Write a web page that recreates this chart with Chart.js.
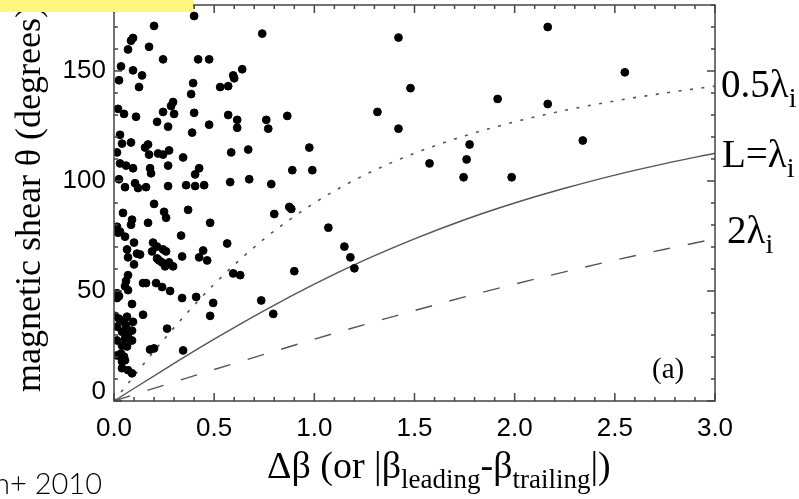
<!DOCTYPE html>
<html>
<head>
<meta charset="utf-8">
<script src="https://cdn.jsdelivr.net/npm/chart.js@4"></script>
<style>
  html, body { margin: 0; padding: 0; background: #fff; }
  #wrap { position: relative; width: 799px; height: 499px; }
</style>
</head>
<body>
<div id="wrap"><canvas id="shearChart" width="799" height="499"></canvas></div>
<script>
// observed events: delta beta vs magnetic shear angle
var deltaBeta = [
  0.40, 0.20, 0.095, 0.085, 0.07, 0.175, 0.245, 0.42, 0.475, 0.035,
  0.095, 0.14, 0.025, 0.125, 0.395, 0.385, 0.53, 0.57, 0.595, 0.60,
  0.64, 0.74, 0.02, 0.05, 0.11, 0.215, 0.245, 0.295, 0.285, 0.30,
  0.27, 0.40, 0.39, 0.475, 0.57, 0.615, 0.615, 0.03, 0.04, 0.085,
  0.155, 0.17, 0.175, 0.22, 0.245, 0.275, 0.345, 0.585, 0.67, 0.015,
  0.03, 0.06, 0.095, 0.18, 0.27, 0.425, 0.025, 0.055, 0.105, 0.12,
  0.16, 0.185, 0.27, 0.36, 0.405, 0.45, 0.405, 0.58, 0.675, 0.20,
  0.045, 0.25, 0.26, 0.37, 0.09, 0.085, 0.17, 0.48, 0.015, 0.03,
  0.02, 0.055, 0.335, 0.10, 0.195, 0.215, 0.565, 0.065, 0.07, 0.115,
  0.13, 0.19, 0.245, 0.26, 0.445, 0.425, 0.465, 0.34, 0.10, 0.215,
  0.225, 0.24, 0.255, 0.295, 0.275, 0.595, 0.63, 0.07, 0.06, 0.055,
  0.07, 0.145, 0.16, 0.21, 0.24, 0.28, 0.015, 0.025, 0.015, 0.34,
  0.41, 0.495, 0.735, 0.09, 0.145, 0.48, 0.005, 0.025, 0.065, 0.05,
  0.095, 0.06, 0.265, 0.015, 0.04, 0.07, 0.09, 0.015, 0.055, 0.09,
  0.04, 0.065, 0.18, 0.20, 0.345, 0.015, 0.035, 0.05, 0.04, 0.055,
  0.04, 0.07, 0.09, 1.42, 2.165, 1.48, 1.915, 2.165, 1.315, 0.76,
  0.77, 0.865, 1.42, 0.975, 1.775, 1.76, 1.575, 1.745, 1.985, 0.89,
  0.99, 0.785, 2.55, 2.34, 0.80, 0.875, 0.885, 1.07, 1.15, 1.18,
  1.20, 0.90, 0.795
];
var shearAngle = [
  175, 170.5, 165, 163.8, 159.8, 161, 155.3, 155.3, 155.3, 152.1,
  150.3, 148, 145.8, 142.7, 144.5, 139.5, 142.7, 143.1, 148, 146.7,
  150.8, 167, 132.8, 130.5, 129.2, 126.9, 131.4, 135.9, 134.1, 130.5,
  124.7, 131, 122, 125.6, 130, 127.8, 124.2, 121, 117, 117.5,
  115.2, 116.6, 112, 112.5, 112, 113.9, 110.7, 113, 114.3, 113,
  108, 107, 105.8, 105.8, 107, 105.8, 100.8, 97.2, 99, 96.8,
  97.2, 103.5, 97.7, 98.1, 97.7, 98.1, 103, 99.5, 100.8, 89.6,
  85.5, 86, 83.3, 86.9, 82.4, 80.1, 81, 81, 79.2, 77,
  76.5, 74.7, 75.2, 72, 72, 70.2, 71.6, 68.9, 65.3, 67,
  66.6, 68, 68.9, 68, 68.4, 65.3, 63.9, 65.7, 62.1, 64.8,
  63.9, 63, 61.2, 61.2, 63, 58, 57.2, 57.2, 54.5, 52.2,
  50.4, 53.6, 53.6, 53.6, 51.8, 50, 49, 47.7, 46.8, 46.8,
  47.3, 44.6, 45.7, 44.1, 39.2, 38.7, 38.7, 37.4, 38.3, 36,
  36, 34.2, 32.9, 33.8, 31.5, 30.6, 32, 27.5, 28.4, 27.5,
  25.2, 24.8, 23.4, 23.9, 23, 20.7, 21.6, 20.2, 18, 18.5,
  14.9, 14, 12.6, 165.2, 170, 142.2, 137.3, 135, 131.4, 127.8,
  123.8, 129.6, 123.8, 115.2, 116.6, 109.8, 108, 101.7, 101.7, 104.9,
  104.9, 98.6, 149.4, 118.4, 85, 88.2, 87.3, 78.8, 70.2, 65.3,
  60.3, 59, 39.6
];

// boundary curves for three current sheet widths
var curveBeta = [0, 0.25, 0.5, 0.75, 1.0, 1.25, 1.5, 1.75, 2.0, 2.25, 2.5, 2.75, 3.0];
var halfLambda = [0, 28.1, 53.1, 73.7, 90, 102.7, 112.6, 120.5, 126.9, 132.1, 136.4, 140.0, 143.1];
var oneLambda = [0, 14.3, 28.1, 41.1, 53.1, 64.0, 73.7, 82.4, 90, 96.7, 102.7, 107.9, 112.6];
var twoLambda = [0, 7.2, 14.3, 21.2, 28.1, 34.7, 41.1, 47.3, 53.1, 58.7, 64.0, 69.0, 73.7];

var xTickLabels = ['0.0', '0.5', '1.0', '1.5', '2.0', '2.5', '3.0'];
var yTickLabels = ['0', '50', '100', '150'];

function pairs(xs, ys) {
  return xs.map(function(v, i) { return { x: v, y: ys[i] }; });
}

var SERIF = '"Liberation Serif", "Times New Roman", serif';
var SANS = '"Liberation Sans", Arial, sans-serif';

// draws text made of [string, isSubscript] pieces
function drawPieces(ctx, pieces, x, y, size) {
  var cx = x;
  pieces.forEach(function(p) {
    var sub = p[1];
    ctx.font = (sub ? Math.round(size * 0.72) : size) + 'px ' + SERIF;
    ctx.fillText(p[0], cx, sub ? y + size * 0.25 : y);
    cx += ctx.measureText(p[0]).width;
  });
}

var framePlugin = {
  id: 'frame',
  afterDraw: function(chart) {
    var ctx = chart.ctx, a = chart.chartArea;
    var xs = chart.scales.x, ys = chart.scales.y;
    ctx.save();
    ctx.strokeStyle = '#444';
    ctx.lineWidth = 1.5;
    ctx.strokeRect(a.left, a.top, a.right - a.left, a.bottom - a.top);

    // inward tick marks on all four sides
    ctx.beginPath();
    for (var i = 0; i <= 30; i++) {
      var px = xs.getPixelForValue(i / 10);
      var len = i % 5 === 0 ? 8 : 4;
      ctx.moveTo(px, a.bottom); ctx.lineTo(px, a.bottom - len);
      ctx.moveTo(px, a.top); ctx.lineTo(px, a.top + len);
    }
    for (var d = 0; d <= 180; d += 10) {
      var py = ys.getPixelForValue(d);
      var l2 = d % 50 === 0 ? 8 : 4;
      ctx.moveTo(a.left, py); ctx.lineTo(a.left + l2, py);
      ctx.moveTo(a.right, py); ctx.lineTo(a.right - l2, py);
    }
    ctx.stroke();

    // y tick labels
    ctx.fillStyle = '#000';
    ctx.font = '26px ' + SANS;
    ctx.textAlign = 'right';
    ctx.textBaseline = 'middle';
    yTickLabels.forEach(function(t) {
      var v = parseFloat(t);
      var py = ys.getPixelForValue(v) - (v === 0 ? 9 : 0);
      ctx.fillText(t, a.left - 8, py);
    });

    // axis titles
    ctx.textAlign = 'left';
    ctx.textBaseline = 'alphabetic';
    ctx.save();
    ctx.translate(40, 199);
    ctx.rotate(-Math.PI / 2);
    ctx.font = '36px ' + SERIF;
    ctx.textAlign = 'center';
    ctx.fillText('magnetic shear \u03b8 (degrees)', 0, 0);
    ctx.restore();

    drawPieces(ctx, [['\u0394\u03b2 (or |\u03b2', 0], ['leading', 1], ['-\u03b2', 0], ['trailing', 1], ['|)', 0]], 267, 478, 38);

    // curve labels on the right
    drawPieces(ctx, [['0.5\u03bb', 0], ['i', 1]], 721, 97, 39);
    drawPieces(ctx, [['L=\u03bb', 0], ['i', 1]], 722, 167, 39);
    drawPieces(ctx, [['2\u03bb', 0], ['i', 1]], 727, 243, 39);

    ctx.font = '29px ' + SERIF;
    ctx.fillText('(a)', 652, 378);

    // citation and highlight
    ctx.font = '300 29px Lato, "Noto Sans", sans-serif';
    ctx.textAlign = 'right';
    ctx.fillText('n+ 2010', 102, 494);
    ctx.fillStyle = '#fff680';
    ctx.fillRect(0, 0, 193, 12);
    ctx.restore();
  }
};

var ctx = document.getElementById('shearChart').getContext('2d');
var chart = new Chart(ctx, {
  type: 'scatter',
  data: {
    datasets: [
      {
        label: 'events',
        data: pairs(deltaBeta, shearAngle),
        backgroundColor: '#000',
        borderColor: '#000',
        pointRadius: 3.9,
        order: 0
      },
      {
        label: '0.5 lambda',
        data: pairs(curveBeta, halfLambda),
        showLine: true, pointRadius: 0,
        borderColor: '#555', borderWidth: 1.6,
        borderDash: [3, 8.5],
        cubicInterpolationMode: 'monotone',
        order: 1
      },
      {
        label: 'L = lambda',
        data: pairs(curveBeta, oneLambda),
        showLine: true, pointRadius: 0,
        borderColor: '#555', borderWidth: 1.4,
        cubicInterpolationMode: 'monotone',
        order: 1
      },
      {
        label: '2 lambda',
        data: pairs(curveBeta, twoLambda),
        showLine: true, pointRadius: 0,
        borderColor: '#555', borderWidth: 1.4,
        borderDash: [17, 18],
        cubicInterpolationMode: 'monotone',
        order: 1
      }
    ]
  },
  options: {
    responsive: false,
    animation: false,
    layout: { padding: { left: 0, right: 84, top: 4, bottom: 0 } },
    plugins: { legend: { display: false }, tooltip: { enabled: false } },
    scales: {
      x: {
        type: 'linear', min: 0, max: 3,
        grid: { display: false, drawTicks: false },
        border: { display: false },
        ticks: {
          stepSize: 0.5, padding: 12, color: '#000',
          font: { family: 'Liberation Sans', size: 26 },
          maxRotation: 0,
          callback: function(v) {
            var i = Math.round(v * 2);
            return xTickLabels[i];
          }
        },
        afterFit: function(scale) { scale.height = 98; }
      },
      y: {
        type: 'linear', min: 0, max: 180,
        grid: { display: false, drawTicks: false },
        border: { display: false },
        ticks: { display: false },
        afterFit: function(scale) { scale.width = 114; }
      }
    }
  },
  plugins: [framePlugin]
});
</script>
</body>
</html>
